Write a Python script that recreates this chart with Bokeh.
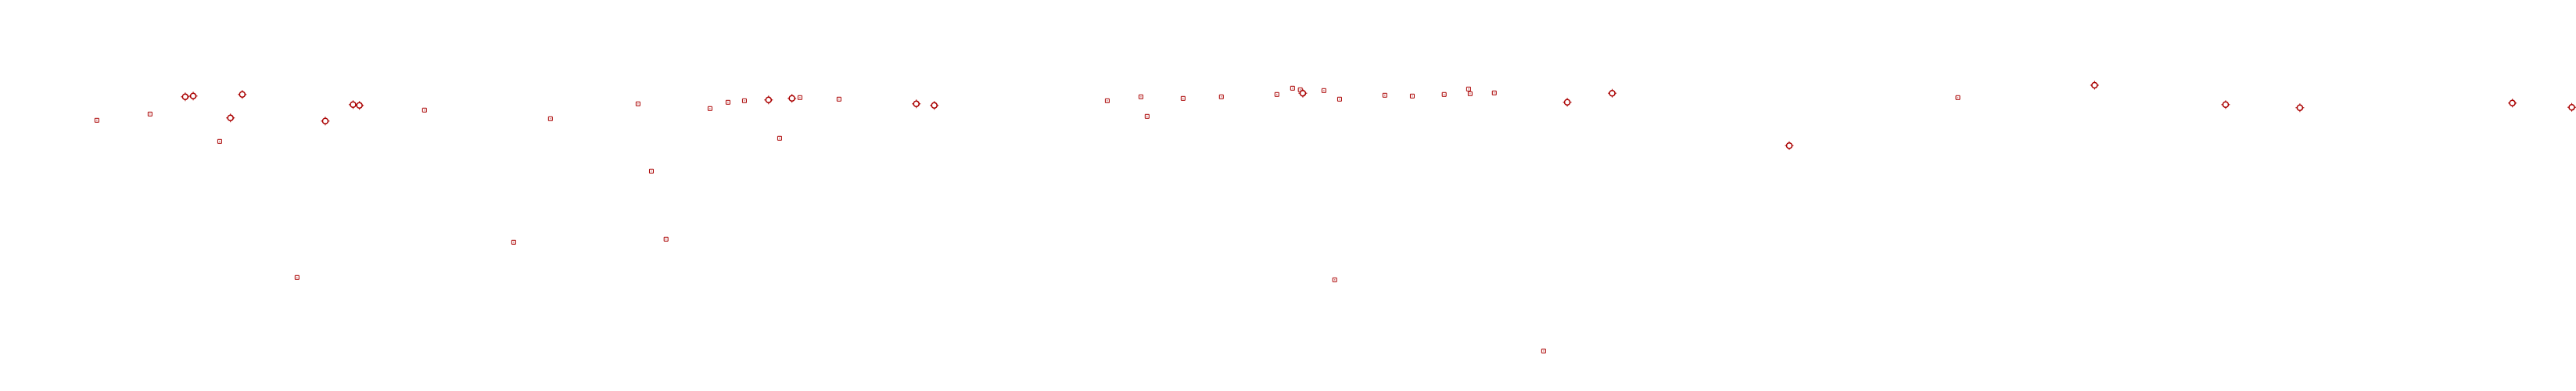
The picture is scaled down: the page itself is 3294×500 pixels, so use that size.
from bokeh.plotting import figure
from bokeh.models import Range1d
from bokeh.embed import file_html
from bokeh.resources import INLINE

# Series A (small squares)
a_x = [3.51, 5.58, 8.29, 11.30, 16.26, 19.73, 21.16, 24.57, 25.09, 25.66,
       27.37, 28.07, 28.71, 30.08, 30.87, 32.39, 42.83, 44.14, 44.38, 45.78,
       47.27, 49.43, 50.04, 50.34, 51.26, 51.87, 51.68, 53.63, 54.70, 55.94,
       56.89, 56.95, 57.89, 59.81, 75.93]
a_y = [69.98, 71.63, 64.40, 28.45, 72.67, 37.75, 70.39, 74.32, 56.55, 38.57,
       73.08, 74.73, 75.14, 65.23, 75.97, 75.56, 75.14, 76.18, 71.01, 75.76,
       76.18, 76.80, 78.45, 78.04, 77.83, 75.56, 27.83, 76.59, 76.38, 76.80,
       78.24, 77.00, 77.21, 9.03, 75.97]

# Series B (diamond-like markers)
b_x = [6.95, 7.26, 8.71, 9.17, 12.40, 13.48, 13.73, 29.65, 30.56, 35.40,
       36.10, 50.44, 60.73, 62.48, 69.37, 81.25, 86.35, 89.24, 97.51, 99.82]
b_y = [76.18, 76.38, 70.60, 76.80, 69.77, 74.11, 73.90, 75.35, 75.76, 74.32,
       73.90, 77.13, 74.73, 77.13, 63.29, 79.24, 74.11, 73.29, 74.52, 73.41]

RED = "#aa0000"

p = figure(width=3294, height=500, output_backend="svg", toolbar_location=None,
           x_axis_type=None, y_axis_type=None,
           x_range=Range1d(-0.2435, 100.0), y_range=Range1d(-1.653, 101.653),
           min_border=0, outline_line_color=None)
p.background_fill_color = "white"
p.border_fill_color = "white"

p.scatter(a_x, a_y, marker="square_dot", size=5, line_color=RED, line_width=1,
          fill_color=None)
p.scatter(b_x, b_y, marker="cross", size=11, line_color=RED, line_width=1)
p.scatter(b_x, b_y, marker="circle", size=7, line_color=RED, line_width=1.6,
          fill_color="white")

open("out.html", "w").write(file_html(p, INLINE))
